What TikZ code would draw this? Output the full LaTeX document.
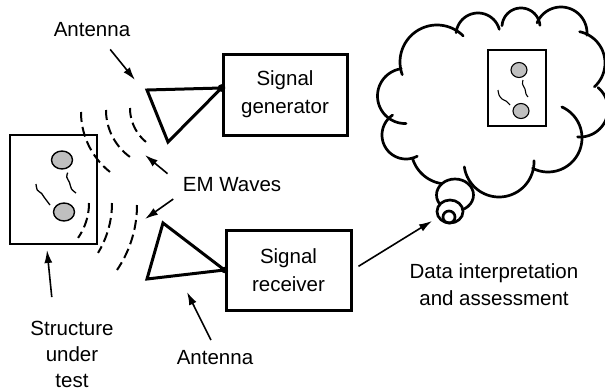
\documentclass[tikz,border=0pt]{standalone}
\usepackage{fontspec}
\setmainfont{Liberation Sans}
\usetikzlibrary{arrows.meta}

% one scallop of the thought cloud: centre x, centre y, radius, from angle, to angle
\newcommand\lobe[5]{\draw[cloudline] plot[domain=#4:#5,samples=50,variable=\t] ({#1+#3*cos(\t)},{#2-#3*sin(\t)});}
% one dashed wave front
\newcommand\wavefront[5]{\draw[wave] plot[domain=#4:#5,samples=40,variable=\t] ({#1+#3*cos(\t)},{#2-#3*sin(\t)});}

\tikzset{
  cloudline/.style={line width=2.7pt,line cap=round},
  wave/.style={line width=2pt,dash pattern=on 10pt off 5pt},
  arr/.style={line width=1.6pt,-{Latex[length=13pt,width=8pt]}},
  ant/.style={line width=3pt,line join=miter},
  box/.style={draw,line width=3pt,align=center,inner sep=0pt,
              font=\fontsize{20.5}{28}\selectfont},
  lbl/.style={align=center,inner sep=2pt,font=\fontsize{20.5}{27}\selectfont},
  spot/.style={draw,line width=1.4pt,fill=black!25},
  crack/.style={line width=1.3pt},
}

\begin{document}
\begin{tikzpicture}[x=1pt,y=-1pt]
\useasboundingbox (0,0) rectangle (605,391);

% instrument boxes
\node[box,minimum width=124pt,minimum height=81pt] (gen) at (285,94.5) {Signal\\generator};
\node[box,minimum width=125pt,minimum height=80pt] (rx) at (288.5,270) {Signal\\receiver};

% antennas
\coordinate (txfeed) at ([yshift=6.5pt]gen.west);
\coordinate (txa) at (147,90);
\coordinate (txb) at (168,142);
\draw[ant] (txa) -- (txfeed) -- (txb) -- cycle;
\fill (txfeed) circle[radius=3.8];
\coordinate (rxa) at (163,223);
\coordinate (rxb) at (147,279);
\draw[ant] (rxa) -- (rx.west) -- (rxb) -- cycle;
\fill (rx.west) circle[radius=3.2];

% structure under test
\draw[line width=2pt] (10,135) rectangle (97,244);
\draw[spot] (62,160) ellipse[x radius=10.5,y radius=9];
\draw[spot] (64,212) ellipse[x radius=10.5,y radius=9];
\draw[crack] plot[smooth] coordinates {(67.7,172.7) (66.7,177) (69.5,182.5) (71.5,189) (76,193)};
\draw[crack] plot[smooth] coordinates {(36,184) (37.3,190) (41.7,193.5) (44,197) (47,201) (50,205)};

% wave fronts
\wavefront{157.5}{112}{76.5}{180}{231.6}
\wavefront{164}{110}{58}{180}{234}
\wavefront{174}{108}{44}{180}{230.4}
\wavefront{28}{203}{61}{0}{-34.9}
\wavefront{16}{203}{96}{0}{-31.3}
\wavefront{21.4}{205}{115.6}{0}{-34.2}

% thought cloud
\lobe{437}{62}{37}{45}{200}
\lobe{478}{35}{22}{15}{174}
\lobe{521}{27}{19}{5}{176}
\lobe{561}{33}{26}{-5}{157}
\lobe{573}{63}{32}{-48}{78}
\lobe{580}{109}{28}{-95}{50}
\lobe{548}{138}{34}{-117}{66}
\lobe{499}{162}{35}{188}{362}
\lobe{447}{148}{36}{196}{278}
\lobe{406}{135}{24}{124}{298}
\lobe{405}{96}{27.5}{98}{272}
\draw[cloudline,fill=white] (455,195) ellipse[x radius=18.5,y radius=16];
\draw[cloudline,fill=white] (450,211.5) ellipse[x radius=13,y radius=11.5];
\draw[cloudline] (449,217) circle[radius=6];
\coordinate (thought) at (432,221);

% structure as pictured in the cloud
\draw[line width=1.3pt] (488,50) rectangle (546,126);
\draw[spot,line width=1.1pt] (519,70) ellipse[x radius=8,y radius=7.5];
\draw[spot,line width=1.1pt] (521,111) ellipse[x radius=8,y radius=7.5];
\draw[crack,line width=1.1pt] plot[smooth] coordinates {(523,80) (522.5,84) (525,89) (526,94) (528,97)};
\draw[crack,line width=1.1pt] plot[smooth] coordinates {(498,90) (499,95) (502,99) (506,101) (510,105)};

% labels
\node[lbl] (antT) at (92,30) {Antenna};
\node[lbl] (emw) at (232,184.5) {EM Waves};
\node[lbl] (sut) at (72,354.4) {Structure\\[-1pt]under\\[-1pt]test};
\node[lbl] (antB) at (215,357.5) {Antenna};
\node[lbl] (dia) at (494,284.5) {Data interpretation\\and assessment};

% pointers
\coordinate (tipTx) at (135,80);
\coordinate (tipWu) at (145,155);
\coordinate (tipWl) at (145,219);
\coordinate (tipSut) at (47,250);
\coordinate (tipRx) at (187,292);
\draw[arr,shorten <=13pt] ([xshift=10pt]antT.south) -- (tipTx);
\draw[arr,shorten <=17pt] (emw.west) -- (tipWu);
\draw[arr,shorten <=9pt] (emw.south west) -- (tipWl);
\draw[arr,shorten <=22pt] ([xshift=-18pt]sut.north) -- (tipSut);
\draw[arr,shorten <=9pt] (antB.north) -- (tipRx);
\draw[arr,shorten <=7pt] (rx.east) -- (thought);
\end{tikzpicture}
\end{document}
